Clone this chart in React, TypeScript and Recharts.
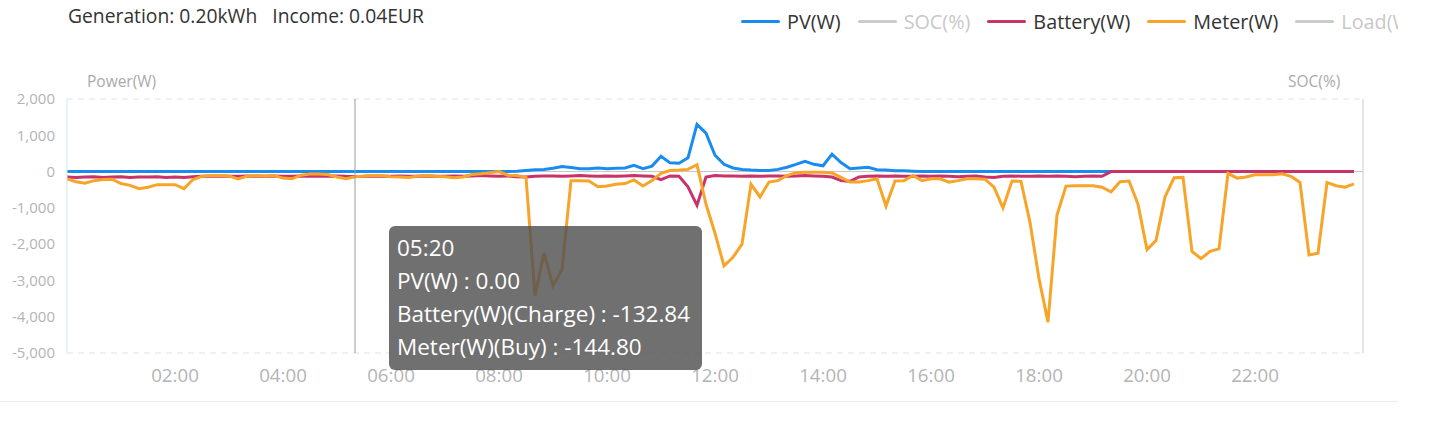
import React from "react";
import {
  LineChart,
  Line,
  XAxis,
  YAxis,
  CartesianGrid,
  Tooltip,
  ReferenceLine,
} from "recharts";

// 10-minute samples, 00:00 .. 23:50
const pvW: number[] = [
  0, 0, 0, 0, 0, 0, 0, 0, 0, 0, 0, 0,
  0, 0, 0, 0, 0, 0, 0, 0, 0, 0, 0, 0,
  0, 0, 0, 0, 0, 0, 0, 0, 0, 0, 0, 0,
  0, 0, 0, 0, 0, 0, 0, 0, 0, 0, 0, 0,
  0, 0, 10, 30, 50, 60, 90, 140, 110, 80, 80, 100,
  80, 90, 100, 170, 80, 150, 420, 240, 230, 380, 1300, 1060,
  450, 200, 100, 60, 40, 30, 30, 60, 120, 200, 280, 200,
  160, 480, 250, 80, 100, 120, 50, 40, 20, 20, 10, 0,
  0, 0, 0, 0, 0, 0, 0, 0, 0, 0, 0, 0,
  0, 0, 0, 0, 0, 0, 0, 0, 0, 0, 0, 0,
  0, 0, 0, 0, 0, 0, 0, 0, 0, 0, 0, 0,
  0, 0, 0, 0, 0, 0, 0, 0, 0, 0, 0, 0,
];

const batteryW: number[] = [
  -150, -160, -150, -140, -160, -150, -140, -160, -150, -150, -140, -160,
  -150, -160, -140, -130, -130, -120, -130, -130, -120, -130, -130, -120,
  -130, -130, -120, -130, -130, -130, -120, -130, -132.84, -130, -120, -130,
  -130, -120, -130, -130, -120, -130, -130, -120, -130, -120, -110, -120,
  -130, -120, -140, -150, -130, -120, -120, -130, -120, -110, -120, -130,
  -120, -130, -120, -110, -120, -130, -220, -120, -130, -420, -930, -150,
  -110, -120, -120, -130, -120, -130, -120, -120, -130, -120, -110, -120,
  -130, -150, -250, -270, -150, -130, -120, -130, -120, -130, -130, -120,
  -130, -120, -130, -140, -130, -120, -150, -160, -130, -120, -130, -130,
  -120, -130, -120, -130, -140, -130, -120, -130, 0, 0, 0, 0,
  0, 0, 0, 0, 0, 0, 0, 0, 0, 0, 0, 0,
  0, 0, 0, 0, 0, 0, 0, 0, 0, 0, 0, 0,
];

const meterW: number[] = [
  -200, -280, -320, -250, -220, -210, -330, -380, -470, -430, -360, -360,
  -360, -470, -220, -130, -110, -110, -120, -200, -130, -110, -120, -110,
  -180, -200, -100, -70, -70, -80, -150, -200, -144.8, -120, -110, -110,
  -140, -150, -160, -120, -110, -130, -140, -170, -150, -80, -60, -30,
  0, -100, -110, -160, -3420, -2240, -3150, -2700, -250, -250, -260, -420,
  -400, -350, -330, -230, -400, -250, -50, 30, 40, 60, 190, -900,
  -1700, -2600, -2360, -2000, -350, -700, -290, -250, -110, -30, -20, -20,
  -20, -40, -160, -290, -290, -250, -200, -950, -260, -250, -110, -250,
  -200, -200, -290, -250, -200, -200, -210, -430, -1000, -260, -270, -1400,
  -2950, -4150, -1200, -400, -390, -390, -390, -430, -560, -280, -260, -900,
  -2150, -1900, -700, -170, -160, -2200, -2400, -2200, -2130, -50, -180, -150,
  -90, -90, -90, -60, -130, -300, -2300, -2250, -300, -390, -430, -340,
];

const xTicks: number[] = [120, 240, 360, 480, 600, 720, 840, 960, 1080, 1200, 1320];
const yTicks: number[] = [-5000, -4000, -3000, -2000, -1000, 0, 1000, 2000];

const legendNames: string[] = ["PV(W)", "SOC(%)", "Battery(W)", "Meter(W)", "Load(W)"];
const legendColors: string[] = ["#1a8cf0", "#cccccc", "#c8346a", "#f8a428", "#cccccc"];
const legendActive: boolean[] = [true, false, true, true, false];

const generationText = "Generation: 0.20kWh";
const incomeText = "Income: 0.04EUR";

const TOOLTIP_INDEX = 32;

const fmtTime = (m: number) => {
  const h = Math.floor(m / 60);
  const mm = Math.round(m % 60);
  return `${String(h).padStart(2, "0")}:${String(mm).padStart(2, "0")}`;
};

const data = pvW.map((pv, i) => ({
  t: i * 10,
  pv,
  battery: batteryW[i],
  meter: meterW[i],
}));

const fontFamily = "'Open Sans', 'Noto Sans', sans-serif";

const TooltipBox = (props: any) => {
  const { active, payload } = props;
  if (!active || !payload || !payload.length) return null;
  const row = payload[0].payload;
  const lines = [
    fmtTime(row.t),
    `PV(W) : ${row.pv.toFixed(2)}`,
    `Battery(W)(Charge) : ${row.battery.toFixed(2)}`,
    `Meter(W)(Buy) : ${row.meter.toFixed(2)}`,
  ];
  return (
    <div
      style={{
        background: "rgba(80,80,80,0.82)",
        borderRadius: 6,
        color: "#fff",
        padding: "5px 8px 7px 8px",
        width: 297,
        fontFamily,
        fontSize: 22.5,
        lineHeight: "33px",
        whiteSpace: "nowrap",
      }}
    >
      {lines.map((l, k) => (
        <div key={k}>{l}</div>
      ))}
    </div>
  );
};

export default function App() {
  return (
    <div
      style={{
        position: "absolute",
        left: 0,
        top: 0,
        width: 1434,
        height: 442,
        background: "#fff",
        fontFamily,
        overflow: "hidden",
      }}
    >
      <div
        style={{
          position: "absolute",
          left: 68,
          top: 2,
          fontSize: 19.3,
          color: "#333",
          whiteSpace: "pre",
        }}
      >
        {generationText + "   " + incomeText}
      </div>

      <div
        style={{
          position: "absolute",
          left: 741,
          top: 7,
          width: 657,
          height: 28,
          overflow: "hidden",
          display: "flex",
          alignItems: "center",
          whiteSpace: "nowrap",
          fontSize: 19.8,
        }}
      >
        {legendNames.map((n, k) => (
          <div
            key={n}
            style={{ display: "flex", alignItems: "center", marginRight: 17 }}
          >
            <div
              style={{
                width: 39,
                height: 3,
                borderRadius: 2,
                background: legendColors[k],
                marginRight: 7,
              }}
            />
            <span style={{ color: legendActive[k] ? "#333" : "#c8c8c8" }}>{n}</span>
          </div>
        ))}
      </div>

      <div
        style={{
          position: "absolute",
          left: 87,
          top: 70,
          fontSize: 15.5,
          color: "#aaa",
        }}
      >
        Power(W)
      </div>
      <div
        style={{
          position: "absolute",
          left: 1288,
          top: 70,
          fontSize: 15.5,
          color: "#aaa",
        }}
      >
        SOC(%)
      </div>

      <div
        style={{
          position: "absolute",
          left: 0,
          top: 401,
          width: 1398,
          height: 1,
          background: "#ececec",
        }}
      />

      <div style={{ position: "absolute", left: 0, top: 0 }}>
        <LineChart
          width={1434}
          height={442}
          data={data}
          margin={{ top: 99, right: 61, bottom: 59, left: 7 }}
        >
          <CartesianGrid
            vertical={false}
            stroke="#e3e3e3"
            strokeDasharray="6 5"
          />
          <XAxis
            dataKey="t"
            type="number"
            domain={[0, 1440]}
            ticks={xTicks}
            tickFormatter={fmtTime}
            axisLine={false}
            tickLine={false}
            height={30}
            tickMargin={10}
            tick={{ fill: "#b4b4b4", fontSize: 18.7 }}
            interval={0}
          />
          <YAxis
            yAxisId="p"
            domain={[-5000, 2000]}
            ticks={yTicks}
            tickFormatter={(v: number) => v.toLocaleString("en-US")}
            axisLine={{ stroke: "#cfe6f6" }}
            tickLine={false}
            tickMargin={6}
            width={60}
            tick={{ fill: "#b4b4b4", fontSize: 15 }}
            allowDataOverflow
          />
          <YAxis
            yAxisId="soc"
            orientation="right"
            domain={[0, 100]}
            tick={false}
            tickLine={false}
            axisLine={{ stroke: "#cccccc" }}
            width={10}
          />
          <ReferenceLine yAxisId="p" y={0} stroke="#c4c4c4" strokeWidth={1} />
          <Line
            yAxisId="p"
            dataKey="pv"
            stroke="#1a8cf0"
            strokeWidth={3}
            dot={false}
            activeDot={false}
            isAnimationActive={false}
          />
          <Line
            yAxisId="p"
            dataKey="battery"
            stroke="#c8346a"
            strokeWidth={3}
            dot={false}
            activeDot={false}
            isAnimationActive={false}
          />
          <Line
            yAxisId="p"
            dataKey="meter"
            stroke="#f8a428"
            strokeWidth={3}
            dot={false}
            activeDot={false}
            isAnimationActive={false}
          />
          <Tooltip
            defaultIndex={TOOLTIP_INDEX}
            active
            content={<TooltipBox />}
            position={{ x: 389, y: 226 }}
            cursor={{ stroke: "#9a9a9a", strokeWidth: 1 }}
            isAnimationActive={false}
            wrapperStyle={{ zIndex: 10 }}
          />
        </LineChart>
      </div>
    </div>
  );
}
